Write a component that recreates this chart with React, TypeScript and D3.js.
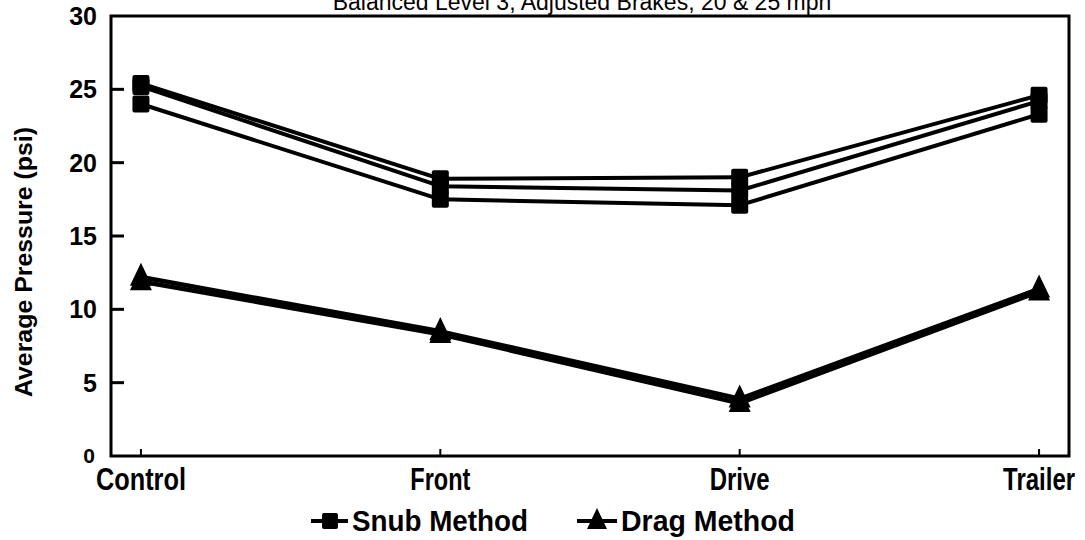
import React from 'react';
import * as d3 from 'd3';

const categories = ['Control', 'Front', 'Drive', 'Trailer'];
// three snub-method runs and two drag-method runs (psi)
const snubSeries = [
  [25.4, 18.9, 19.0, 24.6],
  [25.2, 18.4, 18.1, 24.2],
  [24.0, 17.5, 17.1, 23.3],
];
const dragSeries = [
  [12.2, 8.5, 3.9, 11.4],
  [11.9, 8.3, 3.6, 11.2],
];
const yTicks = [5, 10, 15, 20, 25, 30];
const legendItems = ['Snub Method', 'Drag Method'];

const W = 1085;
const H = 540;
const left = 111;
const right = 1069;
const top = 16;
const bottom = 456;

const font = '"Liberation Sans", Arial, sans-serif';

const x = d3.scalePoint<string>().domain(categories).range([left, right]).padding(0.1);
const y = d3.scaleLinear().domain([0, 30]).range([bottom, top]);

const line = d3
  .line<number>()
  .x((_, i) => x(categories[i])!)
  .y((d) => y(d));

const square = (cx: number, cy: number, s = 17) => (
  <rect x={cx - s / 2} y={cy - s / 2} width={s} height={s} rx={2} fill="#000" />
);

const triangle = (cx: number, cy: number, s = 22) => {
  const p = d3.path();
  p.moveTo(cx, cy - s * 0.65);
  p.lineTo(cx + s / 2, cy + s * 0.4);
  p.lineTo(cx - s / 2, cy + s * 0.4);
  p.closePath();
  return <path d={p.toString()} fill="#000" />;
};

const labelWidths: Record<string, number> = { Control: 90, Front: 60, Drive: 60, Trailer: 72 };

export default function App() {
  return (
    <svg width={W} height={H} style={{ position: 'absolute', left: 0, top: 0, background: '#fff' }}>
      {/* title, clipped by the top edge as in the scan */}
      <text x={582} y={10} textAnchor="middle" fontFamily={font} fontSize={23} fill="#000">
        Balanced Level 3, Adjusted Brakes, 20 &amp; 25 mph
      </text>

      {/* frame */}
      <path
        d={`M${left},${top}H${right}V${bottom}H${left}Z`}
        fill="none"
        stroke="#000"
        strokeWidth={3}
      />

      {/* y ticks */}
      {yTicks.map((t) => (
        <g key={t}>
          {t < 30 && <line x1={left} x2={left + 13} y1={y(t)} y2={y(t)} stroke="#000" strokeWidth={3} />}
          <text
            x={97}
            y={y(t)}
            dy="0.36em"
            textAnchor="end"
            fontFamily={font}
            fontWeight="bold"
            fontSize={25}
            fill="#000"
          >
            {t}
          </text>
        </g>
      ))}
      <text x={89} y={463} textAnchor="middle" fontFamily={font} fontWeight="bold" fontSize={21} fill="#000">
        0
      </text>

      {/* x ticks and labels */}
      {categories.map((c) => (
        <g key={c}>
          <line x1={x(c)!} x2={x(c)!} y1={bottom} y2={bottom - 7} stroke="#000" strokeWidth={2} />
          <text
            x={x(c)!}
            y={490}
            textAnchor="middle"
            fontFamily={font}
            fontWeight="bold"
            fontSize={31}
            textLength={labelWidths[c]}
            lengthAdjust="spacingAndGlyphs"
            fill="#000"
          >
            {c}
          </text>
        </g>
      ))}

      {/* y axis title */}
      <text
        transform="translate(32,262) rotate(-90)"
        textAnchor="middle"
        fontFamily={font}
        fontWeight="bold"
        fontSize={24}
        textLength={270}
        lengthAdjust="spacingAndGlyphs"
        fill="#000"
      >
        Average Pressure (psi)
      </text>

      {/* snub lines */}
      {snubSeries.map((s, i) => (
        <g key={`s${i}`}>
          <path d={line(s)!} fill="none" stroke="#000" strokeWidth={4} strokeLinejoin="round" />
          {s.map((v, j) => (
            <g key={j}>{square(x(categories[j])!, y(v))}</g>
          ))}
        </g>
      ))}

      {/* drag lines */}
      {dragSeries.map((s, i) => (
        <g key={`d${i}`}>
          <path d={line(s)!} fill="none" stroke="#000" strokeWidth={4.5} strokeLinejoin="round" />
          {s.map((v, j) => (
            <g key={j}>{triangle(x(categories[j])!, y(v))}</g>
          ))}
        </g>
      ))}

      {/* legend */}
      <g>
        <line x1={311} x2={348} y1={521} y2={521} stroke="#000" strokeWidth={4} />
        {square(330, 521, 16)}
        <text
          x={352}
          y={531}
          fontFamily={font}
          fontWeight="bold"
          fontSize={29}
          textLength={176}
          lengthAdjust="spacingAndGlyphs"
          fill="#000"
        >
          {legendItems[0]}
        </text>
        <line x1={577} x2={617} y1={521} y2={521} stroke="#000" strokeWidth={4} />
        {triangle(597, 521, 20)}
        <text
          x={621}
          y={531}
          fontFamily={font}
          fontWeight="bold"
          fontSize={29}
          textLength={174}
          lengthAdjust="spacingAndGlyphs"
          fill="#000"
        >
          {legendItems[1]}
        </text>
      </g>
    </svg>
  );
}
